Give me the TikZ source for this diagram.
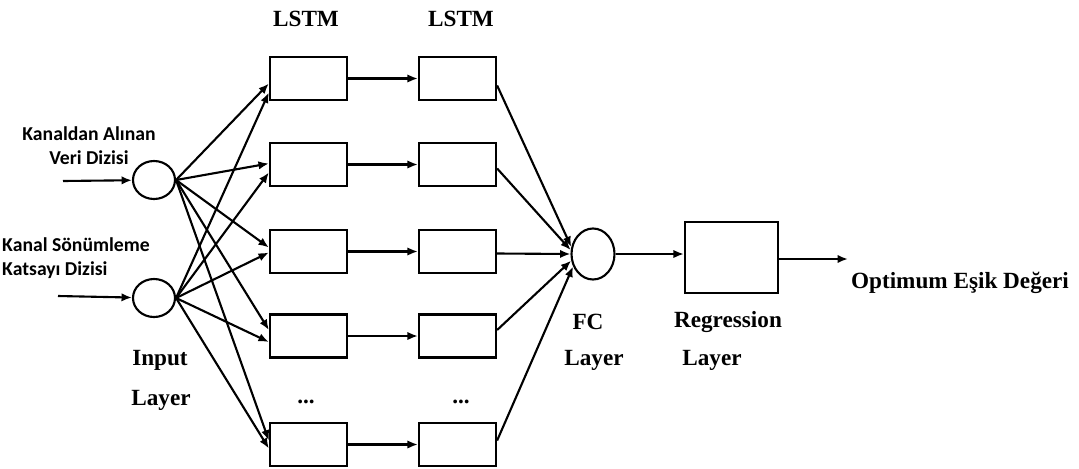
\documentclass[tikz,border=0pt]{standalone}
\usepackage{fontspec}
\setmainfont{Liberation Serif}
\newfontfamily\calibfont{Carlito}
\usetikzlibrary{shapes.geometric,arrows.meta,calc}

\begin{document}
\begin{tikzpicture}[
    x=0.025cm, y=-0.025cm,
    cell/.style={draw, line width=1.6pt, minimum width=1.925cm,
                 minimum height=1.075cm, inner sep=0pt},
    inp/.style={ellipse, draw, line width=1.5pt, minimum width=1.05cm,
                minimum height=0.95cm, inner sep=0pt},
    arr/.style={-{Latex[length=2.6mm,width=2.1mm]}, line width=1.5pt},
    lbl/.style={font=\fontsize{16.5}{19}\selectfont\bfseries},
    inlbl/.style={font=\fontsize{14}{17}\selectfont\calibfont\bfseries},
]
\useasboundingbox (0,0) rectangle (1079,468);

% Column titles
\node[lbl] (t1) at (306,19) {LSTM};
\node[lbl] (t2) at (461,19) {LSTM};

% LSTM cells
\foreach \i/\y in {1/78.5, 2/164.5, 3/251.5, 4/336, 5/444.5} {
  \node[cell] (a\i) at (308.5,\y) {};
  \node[cell] (b\i) at (457.5,\y) {};
  \draw[arr] (a\i) -- (b\i);
}
\node[lbl] (d1) at (306,402) {...};
\node[lbl] (d2) at (461,402) {...};

% Input layer
\node[inp] (x1) at (154,180) {};
\node[inp] (x2) at (154,298) {};
\coordinate (s1) at (63,181);
\coordinate (s2) at (58,296);
\draw[arr] (s1) -- (x1);
\draw[arr] (s2) -- (x2);
\node[inlbl, align=center] (n1) at (89,146) {Kanaldan Alınan\\Veri Dizisi};
\node[inlbl, align=left] (n2) at (76,258) {Kanal Sönümleme\\Katsayı Dizisi};
\node[lbl] (il1) at (160,360) {Input};
\node[lbl] (il2) at (161,400) {Layer};

% Inputs to first LSTM column
\foreach \i/\p/\q in {1/5/14, 2/-1/8, 3/-4/1, 4/-6/6, 5/-4/4} {
  \draw[arr] (x1.east) -- ($(a\i.west)+(0,\p)$);
  \draw[arr] (x2.east) -- ($(a\i.west)+(0,\q)$);
}

% FC layer
\node[ellipse, draw, line width=1.5pt, minimum width=1.075cm,
      minimum height=1.275cm, inner sep=0pt] (fc) at (593,254) {};
\foreach \i/\o/\a in {1/7/162, 2/4/170, 3/2/180, 4/-6/197, 5/-4/212} {
  \draw[arr] ($(b\i.east)+(0,\o)$) -- (fc.\a);
}
\node[lbl] (fl1) at (588,322) {FC};
\node[lbl] (fl2) at (594,360) {Layer};

% Regression layer
\node[cell, minimum width=2.325cm, minimum height=1.775cm] (rg) at (731.5,257.5) {};
\draw[arr] (fc) -- (fc -| rg.west);
\node[lbl] (rl1) at (728,322) {Regression};
\node[lbl] (rl2) at (712,360) {Layer};

% Output
\coordinate (o) at (848,259);
\draw[arr] (rg.east |- o) -- (o);
\node[lbl] (ol) at (960,283) {Optimum Eşik Değeri};

\end{tikzpicture}
\end{document}
